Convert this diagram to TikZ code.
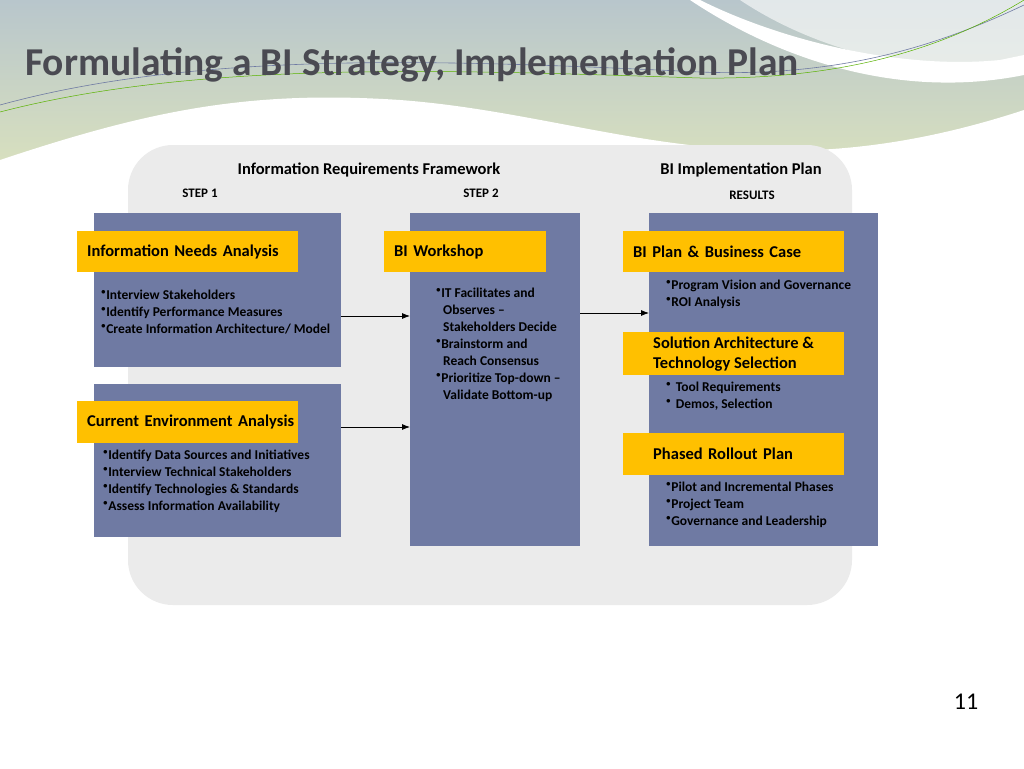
\documentclass[tikz,border=0pt]{standalone}
\usepackage{fontspec}
\setmainfont{Carlito}
\usetikzlibrary{arrows.meta}
\definecolor{pan}{HTML}{6F7AA3}
\definecolor{gold}{HTML}{FFC000}
\definecolor{bgg}{HTML}{EBEBEB}
\definecolor{ttl}{HTML}{4A4A52}
\definecolor{dtop}{HTML}{B8C6CC}
\definecolor{dbot}{HTML}{DDE4BC}
\begin{document}
\begin{tikzpicture}[x=1pt,y=-1pt,
  panel/.style={fill=pan,draw=none},
  lab/.style={fill=gold,draw=none,anchor=north west,inner sep=0pt,font=\bfseries\fontsize{16.5}{20}\selectfont,align=left},
  txt/.style={anchor=north west,inner sep=0pt,font=\bfseries\fontsize{13.5}{17}\selectfont,align=left,text=black},
  hdr/.style={font=\bfseries\fontsize{16.5}{19}\selectfont},
  stp/.style={font=\bfseries\fontsize{13}{15}\selectfont},
  arr/.style={-{Latex[length=8pt,width=6pt]},line width=0.8pt}]
\useasboundingbox (0,0) rectangle (1024,768);
\fill[white] (0,0) rectangle (1024,768);
% decoration
\shade[top color=dtop,bottom color=dbot] (0,0) rectangle (1024,190);
\fill[white] (0,160) .. controls (150,110) and (250,90) .. (400,100) .. controls (600,115) and (750,200) .. (1024,110) -- (1024,768) -- (0,768) -- cycle;
\fill[white] (700,0) .. controls (780,40) and (900,70) .. (1000,60) -- (1024,55) -- (1024,75) .. controls (900,100) and (780,60) .. (690,0) -- cycle;
\fill[white,opacity=0.6] (740,0) .. controls (830,60) and (950,80) .. (1024,60) -- (1024,0) -- cycle;
\draw[pan,line width=0.6pt] (0,105) .. controls (200,50) and (450,60) .. (700,72) .. controls (850,78) and (950,40) .. (1024,5);
\draw[green!50!yellow!70!black,line width=0.5pt] (0,112) .. controls (200,60) and (450,70) .. (700,78) .. controls (850,80) and (950,45) .. (1024,0);
\node[anchor=west,text=ttl,font=\bfseries\fontsize{39.5}{44}\selectfont,inner sep=0pt] (title) at (25,65) {Formulating a BI Strategy, Implementation Plan};
% background panel
\fill[bgg,rounded corners=45pt] (128,145) rectangle (852,605);
\node[hdr] (h1) at (369,170) {Information Requirements Framework};
\node[hdr] (h2) at (741,170) {BI Implementation Plan};
\node[stp] (s1) at (200,193) {STEP 1};
\node[stp] (s2) at (481,193) {STEP 2};
\node[stp] (s3) at (752,195) {RESULTS};
% panels
\node[panel,anchor=north west,minimum width=247pt,minimum height=154pt,inner sep=0pt] (p1) at (94,213) {};
\node[panel,anchor=north west,minimum width=247pt,minimum height=153pt,inner sep=0pt] (p2) at (94,384) {};
\node[panel,anchor=north west,minimum width=170pt,minimum height=333pt,inner sep=0pt] (p3) at (410,213) {};
\node[panel,anchor=north west,minimum width=229pt,minimum height=333pt,inner sep=0pt] (p4) at (649,213) {};
% labels
\node[lab,minimum width=221pt,minimum height=41pt,text width=201pt,inner xsep=10pt] (l1) at (77,231) {\mbox{Information Needs Analysis}};
\node[lab,minimum width=221pt,minimum height=42pt,text width=201pt,inner xsep=10pt] (l2) at (77,401) {\mbox{Current Environment Analysis}};
\node[lab,minimum width=162pt,minimum height=41pt,text width=142pt,inner xsep=10pt] (l3) at (384,231) {\mbox{BI Workshop}};
\node[lab,minimum width=221pt,minimum height=41pt,text width=201pt,inner xsep=10pt] (l4) at (623,231) {\mbox{BI Plan \& Business Case}};
\node[lab,minimum width=221pt,minimum height=43pt,inner sep=0pt] (l5) at (623,332) {};
\node[anchor=west,font=\bfseries\fontsize{16.5}{20.5}\selectfont,align=left,inner sep=0pt] (l5t) at (653,354) {Solution Architecture \&\\Technology Selection};
\node[lab,minimum width=221pt,minimum height=42pt,text width=161pt,inner xsep=30pt] (l6) at (623,433) {\mbox{Phased Rollout Plan}};
% texts
\node[txt] (t1) at (101,290) {$^\bullet$Interview Stakeholders\\$^\bullet$Identify Performance Measures\\$^\bullet$Create Information Architecture/ Model};
\node[txt] (t2) at (103,450) {$^\bullet$Identify Data Sources and Initiatives\\$^\bullet$Interview Technical Stakeholders\\$^\bullet$Identify Technologies \& Standards\\$^\bullet$Assess Information Availability};
\node[txt] (t3) at (436,288) {$^\bullet$IT Facilitates and\\\hspace*{7pt}Observes --\\\hspace*{7pt}Stakeholders Decide\\$^\bullet$Brainstorm and\\\hspace*{7pt}Reach Consensus\\$^\bullet$Prioritize Top-down --\\\hspace*{7pt}Validate Bottom-up};
\node[txt] (t4) at (666,280) {$^\bullet$Program Vision and Governance\\$^\bullet$ROI Analysis};
\node[txt] (t5) at (666,382) {$^\bullet$\,\,Tool Requirements\\$^\bullet$\,\,Demos, Selection};
\node[txt] (t6) at (666,482) {$^\bullet$Pilot and Incremental Phases\\$^\bullet$Project Team\\$^\bullet$Governance and Leadership};
% arrows
\draw[arr] (p1.east|-0,316) -- (p3.west|-0,316);
\draw[arr] (p2.east|-0,427) -- (p3.west|-0,427);
\draw[arr] (p3.east|-0,313) -- (p4.west|-0,313);
\node[font=\fontsize{24}{28}\selectfont] (pg) at (966,702) {11};
\end{tikzpicture}
\end{document}
